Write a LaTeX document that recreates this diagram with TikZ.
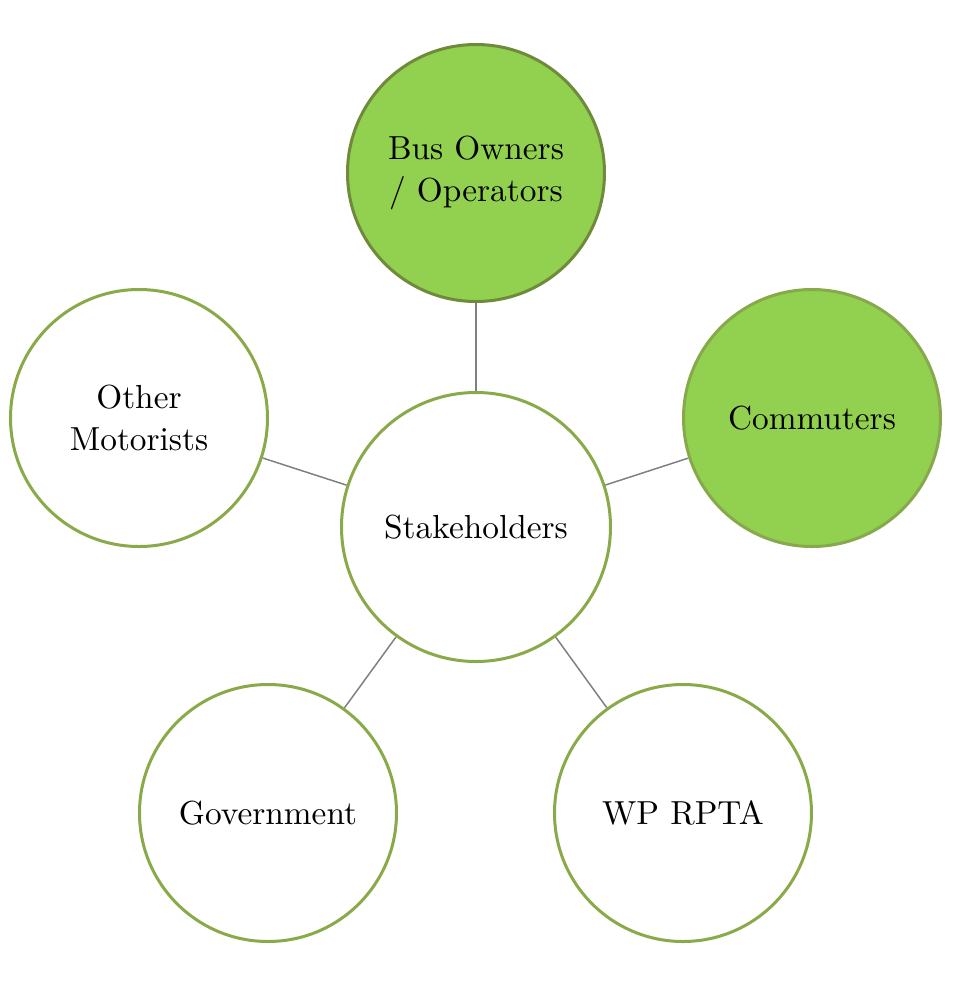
\documentclass[tikz,border=0pt]{standalone}
\begin{document}
\begin{tikzpicture}[x=0.3pt,y=-0.3pt,
  every node/.style={font=\fontsize{10}{12.8}\selectfont, align=center},
  hub/.style={circle, draw=bordergreen, line width=0.9pt, fill=white, inner sep=0pt, minimum size=80.7pt},
  leaf/.style={circle, draw=bordergreen, line width=0.9pt, fill=white, inner sep=0pt, minimum size=77.1pt},
  leafhot/.style={leaf, fill=fillgreen},
  link/.style={draw=linkgray, line width=0.45pt}]
\definecolor{bordergreen}{HTML}{8AA948}
\definecolor{darkborder}{HTML}{6E8A3A}
\definecolor{rightborder}{HTML}{88A84C}
\definecolor{fillgreen}{HTML}{92D050}
\definecolor{linkgray}{HTML}{808080}
\useasboundingbox (0,0) rectangle (952,987);
\node[hub] (c) at (476,527) {Stakeholders};
\node[leafhot, draw=darkborder] (t) at (476,173) {Bus Owners\\/ Operators};
\node[leaf] (l) at (139,418) {Other\\Motorists};
\node[leafhot, draw=rightborder] (r) at (812,418) {Commuters};
\node[leaf] (bl) at (268,813) {Government};
\node[leaf] (br) at (683,813) {WP RPTA};
\path[link] (c) -- (t);
\path[link] (c) -- (l);
\path[link] (c) -- (r);
\path[link] (c) -- (bl);
\path[link] (c) -- (br);
\end{tikzpicture}
\end{document}
